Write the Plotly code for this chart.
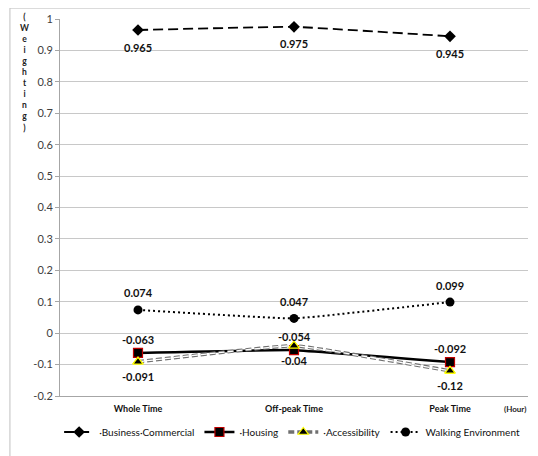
import plotly.graph_objects as go

categories = ["Whole Time", "Off-peak Time", "Peak Time"]
business = [0.965, 0.975, 0.945]
housing = [-0.063, -0.054, -0.092]
accessibility = [-0.091, -0.04, -0.12]
walking = [0.074, 0.047, 0.099]
y_ticks = [1, 0.9, 0.8, 0.7, 0.6, 0.5, 0.4, 0.3, 0.2, 0.1, 0, -0.1, -0.2]
y_ticktext = ["1", "0.9", "0.8", "0.7", "0.6", "0.5", "0.4", "0.3", "0.2", "0.1", "0", "-0.1", "-0.2"]

FONT = "Lato, 'Liberation Sans', sans-serif"
lbl_font = dict(family=FONT, size=11, color="#111111", weight="bold")
SM = 0.25

def fmt(v):
    return "%g" % v

fig = go.Figure()

fig.add_trace(go.Scatter(
    x=categories, y=business, name="·Business·Commercial", mode="lines+markers",
    line=dict(color="black", width=1.8, dash="10px,5px", shape="spline", smoothing=SM),
    marker=dict(symbol="diamond", size=9, color="black"),
))
fig.add_trace(go.Scatter(
    x=categories, y=housing, name="·Housing", mode="lines+markers",
    line=dict(color="black", width=2.5, shape="spline", smoothing=SM),
    marker=dict(symbol="square", size=9, color="black", line=dict(color="#c00000", width=1.2)),
))
fig.add_trace(go.Scatter(
    x=categories, y=accessibility, name="·Accessibility", mode="lines+markers",
    line=dict(color="#707070", width=3.5, dash="6px,3px", shape="spline", smoothing=SM),
    marker=dict(symbol="triangle-up", size=9, color="black", line=dict(color="#ffff00", width=1.2)),
))
fig.add_trace(go.Scatter(
    x=categories, y=accessibility, mode="lines", showlegend=False, hoverinfo="skip",
    line=dict(color="white", width=1.3, dash="6px,3px", shape="spline", smoothing=SM),
))
fig.add_trace(go.Scatter(
    x=categories, y=accessibility, mode="markers", showlegend=False, hoverinfo="skip",
    marker=dict(symbol="triangle-up", size=9, color="black", line=dict(color="#ffff00", width=1.2)),
))
fig.add_trace(go.Scatter(
    x=categories, y=walking, name="Walking Environment", mode="lines+markers",
    line=dict(color="black", width=2, dash="2px,3px", shape="spline", smoothing=SM),
    marker=dict(symbol="circle", size=9, color="black"),
))

# data labels
for series, shift in ((business, -17), (walking, 17), (housing, 13.5), (accessibility, -15)):
    for c, v in zip(categories, series):
        fig.add_annotation(x=c, y=v, text=fmt(v), showarrow=False, yshift=shift,
                           font=lbl_font, xanchor="center", yanchor="middle")

# page body has an 8px margin, so the figure is offset by 8px
fig.update_layout(
    width=530, height=448,
    margin=dict(l=52, r=10, t=11, b=60),
    paper_bgcolor="white", plot_bgcolor="white",
    font=dict(family=FONT, size=11, color="#404040"),
    legend=dict(orientation="h", x=0.496, xanchor="center", y=-0.0955, yanchor="middle",
                font=dict(family=FONT, size=10, color="#111111"),
                bgcolor="rgba(0,0,0,0)", tracegroupgap=0, itemwidth=30),
    showlegend=True,
)
fig.update_xaxes(
    type="category", showgrid=False, showline=True, linecolor="#a6a6a6", linewidth=1,
    ticks="", tickfont=dict(family=FONT, size=9, color="#111111", weight="bold"),
    ticklabelstandoff=4, range=[-0.5, 2.5], fixedrange=True, automargin=False,
)
fig.update_yaxes(
    range=[-0.2, 1], tickvals=y_ticks, ticktext=y_ticktext,
    showgrid=True, gridcolor="#c8c8c8", gridwidth=1, zeroline=False,
    showline=True, linecolor="#a6a6a6", linewidth=1,
    ticks="outside", ticklen=4, tickcolor="#a6a6a6", automargin=False,
    tickfont=dict(family=FONT, size=11, color="#404040"),
)

fig.add_annotation(
    xref="paper", yref="paper", x=-0.075, y=1.025, xanchor="center", yanchor="top",
    text="(<br>W<br>e<br>i<br>g<br>h<br>t<br>i<br>n<br>g<br>)", showarrow=False,
    font=dict(family=FONT, size=8.5, color="#222222", weight="bold"), align="center",
)
fig.add_annotation(
    xref="paper", yref="paper", x=0.972, y=-0.035, xanchor="center", yanchor="middle",
    text="(Hour)", showarrow=False, font=dict(family=FONT, size=8, color="#222222", weight="bold"),
)
fig.add_shape(type="rect", xref="paper", yref="paper", x0=-0.107, x1=1.017, y0=-0.3, y1=1.029,
              line=dict(color="#c0c0c0", width=1), layer="below")

fig.write_html("out.html")
